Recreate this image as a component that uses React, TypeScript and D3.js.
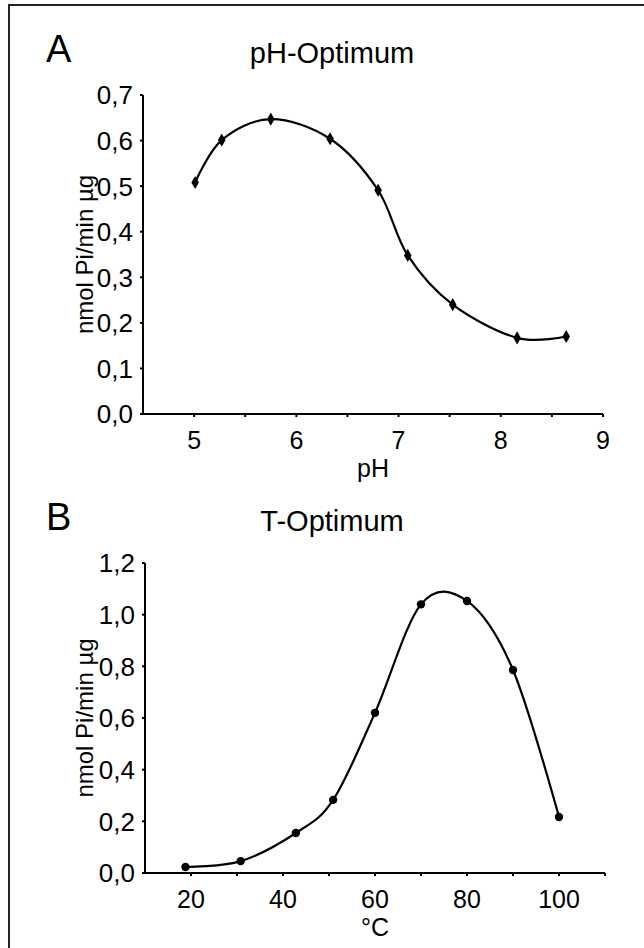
import React, { useEffect, useRef } from "react";
import * as d3 from "d3";

// Panel A: pH optimum
const phValues = [5.01, 5.27, 5.75, 6.33, 6.8, 7.09, 7.53, 8.16, 8.64];
const phActivity = [0.508, 0.601, 0.647, 0.604, 0.491, 0.348, 0.24, 0.167, 0.17];
const phXTicks = [5, 6, 7, 8, 9];
const phYTicks = [0, 0.1, 0.2, 0.3, 0.4, 0.5, 0.6, 0.7];

// Panel B: temperature optimum
const tempValues = [18.8, 30.8, 42.8, 50.9, 60, 70, 80, 90, 100];
const tempActivity = [0.023, 0.046, 0.155, 0.283, 0.62, 1.04, 1.053, 0.786, 0.217];
const tempXTicks = [20, 40, 60, 80, 100];
const tempYTicks = [0, 0.2, 0.4, 0.6, 0.8, 1.0, 1.2];

const W = 644;
const H = 948;
const FONT = "'Liberation Sans', Arial, sans-serif";

interface PanelCfg {
  letter: string;
  title: string;
  xLabel: string;
  xs: number[];
  ys: number[];
  xDomain: [number, number];
  yDomain: [number, number];
  xTicks: number[];
  xMinorStep: number;
  yTicks: number[];
  yFmt: (v: number) => string;
  top: number;
  bottom: number;
  left: number;
  right: number;
  marker: "diamond" | "circle";
}

function drawPanel(svg: d3.Selection<SVGSVGElement, unknown, null, undefined>, c: PanelCfg) {
  const g = svg.append("g");
  const x = d3.scaleLinear().domain(c.xDomain).range([c.left, c.right]);
  const y = d3.scaleLinear().domain(c.yDomain).range([c.bottom, c.top]);

  // axes lines
  g.append("line")
    .attr("x1", c.left).attr("x2", c.left)
    .attr("y1", y(c.yDomain[1])).attr("y2", c.bottom)
    .attr("stroke", "#000").attr("stroke-width", 2);
  g.append("line")
    .attr("x1", c.left).attr("x2", c.right)
    .attr("y1", c.bottom).attr("y2", c.bottom)
    .attr("stroke", "#000").attr("stroke-width", 2);

  // y ticks
  c.yTicks.forEach((t) => {
    g.append("line")
      .attr("x1", c.left - 3).attr("x2", c.left)
      .attr("y1", y(t)).attr("y2", y(t))
      .attr("stroke", "#000").attr("stroke-width", 2);
    g.append("text")
      .attr("x", c.left - 10).attr("y", y(t))
      .attr("dy", "0.36em")
      .attr("text-anchor", "end")
      .attr("font-family", FONT).attr("font-size", 26)
      .text(c.yFmt(t));
  });

  // x minor ticks
  const minor = d3.range(c.xDomain[0] + c.xMinorStep, c.xDomain[1] + c.xMinorStep / 2, c.xMinorStep);
  minor.forEach((t) => {
    g.append("line")
      .attr("x1", x(t)).attr("x2", x(t))
      .attr("y1", c.bottom).attr("y2", c.bottom + 3)
      .attr("stroke", "#000").attr("stroke-width", 2);
  });
  c.xTicks.forEach((t) => {
    g.append("text")
      .attr("x", x(t)).attr("y", c.bottom + 35)
      .attr("text-anchor", "middle")
      .attr("font-family", FONT).attr("font-size", 25)
      .text(String(t));
  });

  // x label
  g.append("text")
    .attr("x", (c.left + c.right) / 2).attr("y", c.bottom + 63)
    .attr("text-anchor", "middle")
    .attr("font-family", FONT).attr("font-size", 25)
    .text(c.xLabel);

  // y label
  g.append("text")
    .attr("transform", `translate(93,${(c.top + c.bottom) / 2}) rotate(-90)`)
    .attr("text-anchor", "middle")
    .attr("font-family", FONT).attr("font-size", 24)
    .text("nmol Pi/min µg");

  // letter and title
  g.append("text")
    .attr("x", 46).attr("y", c.top - 33)
    .attr("font-family", FONT).attr("font-size", 38)
    .text(c.letter);
  g.append("text")
    .attr("x", 332).attr("y", c.top - 32)
    .attr("text-anchor", "middle")
    .attr("font-family", FONT).attr("font-size", 29)
    .text(c.title);

  // curve
  const pts: [number, number][] = c.xs.map((v, i) => [v, c.ys[i]]);
  const line = d3.line<[number, number]>()
    .x((d) => x(d[0]))
    .y((d) => y(d[1]))
    .curve(d3.curveCatmullRom.alpha(0));
  g.append("path")
    .attr("d", line(pts) || "")
    .attr("fill", "none")
    .attr("stroke", "#000")
    .attr("stroke-width", 2.2);

  // markers
  if (c.marker === "diamond") {
    const sym = d3.symbol().type(d3.symbolDiamond).size(50);
    g.selectAll("path.m")
      .data(pts)
      .enter()
      .append("path")
      .attr("class", "m")
      .attr("d", sym() || "")
      .attr("transform", (d) => `translate(${x(d[0])},${y(d[1])})`)
      .attr("fill", "#000");
  } else {
    g.selectAll("circle.m")
      .data(pts)
      .enter()
      .append("circle")
      .attr("class", "m")
      .attr("cx", (d) => x(d[0]))
      .attr("cy", (d) => y(d[1]))
      .attr("r", 4.2)
      .attr("fill", "#000");
  }
}

export default function App() {
  const ref = useRef<SVGSVGElement | null>(null);
  useEffect(() => {
    if (!ref.current) return;
    const svg = d3.select(ref.current);
    svg.selectAll("*").remove();

    svg.append("rect").attr("x", 0).attr("y", 0).attr("width", W).attr("height", H).attr("fill", "#fff");
    // frame (left and top visible)
    svg.append("path")
      .attr("d", `M9,${H} V5 H${W}`)
      .attr("fill", "none")
      .attr("stroke", "#222")
      .attr("stroke-width", 2);

    const fmt1 = (v: number) => d3.format(".1f")(v).replace(".", ",");

    drawPanel(svg, {
      letter: "A",
      title: "pH-Optimum",
      xLabel: "pH",
      xs: phValues,
      ys: phActivity,
      xDomain: [4.5, 9],
      yDomain: [0, 0.7],
      xTicks: phXTicks,
      xMinorStep: 0.5,
      yTicks: phYTicks,
      yFmt: fmt1,
      top: 95,
      bottom: 414,
      left: 143,
      right: 603,
      marker: "diamond",
    });

    drawPanel(svg, {
      letter: "B",
      title: "T-Optimum",
      xLabel: "°C",
      xs: tempValues,
      ys: tempActivity,
      xDomain: [10, 110],
      yDomain: [0, 1.2],
      xTicks: tempXTicks,
      xMinorStep: 10,
      yTicks: tempYTicks,
      yFmt: fmt1,
      top: 563,
      bottom: 873,
      left: 145,
      right: 605,
      marker: "circle",
    });
  }, []);

  return (
    <svg
      ref={ref}
      width={W}
      height={H}
      style={{ position: "absolute", left: 0, top: 0, display: "block" }}
    />
  );
}
